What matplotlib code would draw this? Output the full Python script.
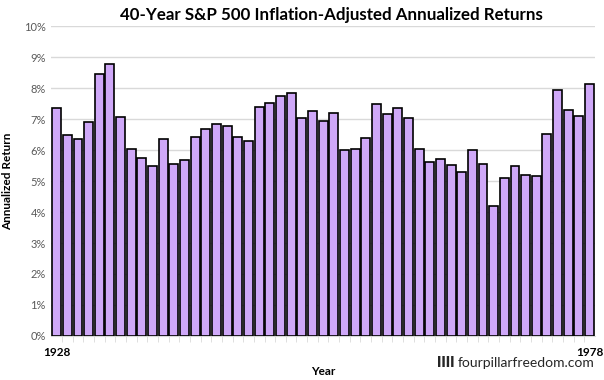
import numpy as np
import matplotlib
matplotlib.use("Agg")
import matplotlib.pyplot as plt
from matplotlib.ticker import MultipleLocator, FuncFormatter

# 40-year rolling annualized real returns, start years 1928-1978
years = list(range(1928, 1979))
returns = [7.35, 6.48, 6.37, 6.90, 8.45, 8.77, 7.06, 6.03, 5.74, 5.48,
           6.35, 5.55, 5.68, 6.42, 6.68, 6.84, 6.77, 6.42, 6.29, 7.39,
           7.52, 7.74, 7.84, 7.03, 7.26, 6.95, 7.19, 6.00, 6.03, 6.39,
           7.48, 7.16, 7.35, 7.03, 6.03, 5.61, 5.71, 5.52, 5.29, 6.00,
           5.55, 4.19, 5.10, 5.48, 5.19, 5.16, 6.52, 7.94, 7.29, 7.10,
           8.13]
shown_years = [1928, 1978]

plt.rcParams['font.family'] = ['Lato', 'DejaVu Sans']

fig = plt.figure(figsize=(6.04, 3.8), dpi=100)
ax = fig.add_axes([0.085, 0.116, 0.9, 0.815])

x = np.arange(len(years))
ax.bar(x, returns, width=0.84, color='#CFA8F8', edgecolor='black', linewidth=1.2, zorder=3)

ax.set_ylim(0, 10)
ax.set_xlim(-0.5, len(years) - 0.5)
ax.yaxis.set_major_locator(MultipleLocator(1))
ax.yaxis.set_major_formatter(FuncFormatter(lambda v, p: f'{int(v)}%'))
ax.grid(axis='y', color='#D9D9D9', linewidth=1, zorder=0)

for s in ['top', 'right', 'left']:
    ax.spines[s].set_visible(False)
ax.spines['bottom'].set_color('#D9D9D9')

ax.tick_params(axis='y', length=0, labelsize=8, labelcolor='#595959', pad=4)
ax.set_xticks([years.index(y) for y in shown_years])
ax.set_xticklabels([str(y) for y in shown_years], fontweight='bold', fontsize=8.5)
ax.set_xticks(x[:-1] + 0.5, minor=True)
ax.tick_params(axis='x', which='major', length=0, pad=8)
ax.tick_params(axis='x', which='minor', length=4, color='#D9D9D9')

ax.set_ylabel('Annualized Return', fontweight='bold', fontsize=8.5, labelpad=8)
ax.set_xlabel('Year', fontweight='bold', fontsize=8.5, labelpad=6)
fig.text(0.548, 0.96, '40-Year S&P 500 Inflation-Adjusted Annualized Returns',
         ha='center', va='center', fontweight='bold', fontsize=12.2)

# watermark: bold bars + site name
site = fig.text(0.985, 0.03, 'fourpillarfreedom.com', ha='right', va='bottom',
                fontsize=10, color='#262626')
fig.canvas.draw()
bb = site.get_window_extent()
fig.text((bb.x0 - 4) / fig.bbox.width, 0.03, 'IIII', ha='right', va='bottom',
         fontsize=10, fontweight='heavy', color='#262626')

fig.savefig('out.png', dpi=100)
